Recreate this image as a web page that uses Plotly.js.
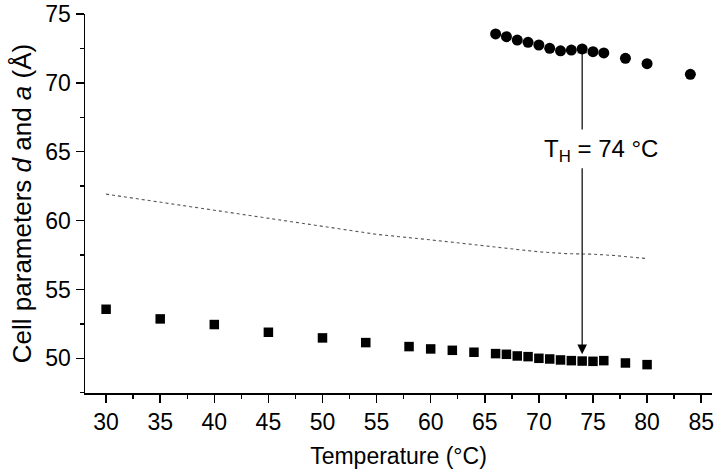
<!DOCTYPE html>
<html>
<head>
<meta charset="utf-8">
<script src="https://cdn.plot.ly/plotly-3.0.1.min.js"></script>
<style>html,body{margin:0;padding:0;background:#fff;}#chart{width:720px;height:474px;}</style>
</head>
<body>
<div id="chart"></div>
<script>
// Cell parameter a (circles, high-temperature phase)
var circleT = [66, 67, 68, 69, 70, 71, 72, 73, 74, 75, 76, 78, 80, 84];
var circleA = [73.55, 73.35, 73.11, 72.94, 72.75, 72.51, 72.33, 72.38, 72.46, 72.26, 72.17, 71.78, 71.39, 70.62];

// Cell parameter d (squares, lamellar phase)
var squareT = [30, 35, 40, 45, 50, 54, 58, 60, 62, 64, 66, 67, 68, 69, 70, 71, 72, 73, 74, 75, 76, 78, 80];
var squareD = [53.56, 52.86, 52.45, 51.89, 51.48, 51.14, 50.85, 50.68, 50.58, 50.44, 50.34, 50.29, 50.17, 50.12, 50.0, 49.95, 49.88, 49.83, 49.80, 49.78, 49.83, 49.66, 49.54];

// Dotted reference curve
var lineT = [30, 35, 40, 45, 50, 55, 60, 64.5, 70, 72.5, 75, 77, 80];
var lineV = [61.92, 61.34, 60.76, 60.17, 59.6, 59.0, 58.6, 58.21, 57.73, 57.6, 57.56, 57.46, 57.24];

var xTicks = [30, 35, 40, 45, 50, 55, 60, 65, 70, 75, 80, 85];
var yTicks = [50, 55, 60, 65, 70, 75];

var transitionT = 74;

var font = "Liberation Sans, Arial, sans-serif";

var traces = [
  {x: lineT, y: lineV, mode: 'lines', type: 'scatter',
   line: {color: '#555', width: 1.1, dash: 'dot'}, hoverinfo: 'skip'},
  {x: squareT, y: squareD, mode: 'markers', type: 'scatter',
   marker: {symbol: 'square', size: 9.5, color: '#000'}},
  {x: circleT, y: circleA, mode: 'markers', type: 'scatter',
   marker: {symbol: 'circle', size: 11, color: '#000'}}
];

var layout = {
  width: 720, height: 474,
  margin: {l: 85, r: 8, t: 14, b: 81},
  paper_bgcolor: '#fff', plot_bgcolor: '#fff',
  showlegend: false,
  font: {family: font, color: '#000', size: 23},
  xaxis: {
    range: [28.05, 86.0], tickvals: xTicks, ticktext: xTicks.map(String),
    showgrid: false, zeroline: false, showline: true, linecolor: '#000', linewidth: 1.5,
    ticks: 'outside', ticklen: 8, tickwidth: 1.5, tickcolor: '#000',
    tickfont: {family: font, size: 23},
    minor: {dtick: 2.5, tick0: 27.5, ticks: 'outside', ticklen: 4, tickwidth: 1.5, tickcolor: '#000', showgrid: false},
    title: {text: 'Temperature (°C)', font: {family: font, size: 23}, standoff: 14}
  },
  yaxis: {
    range: [47.48, 75.0], tickvals: yTicks, ticktext: yTicks.map(String),
    showgrid: false, zeroline: false, showline: true, linecolor: '#000', linewidth: 1.5,
    ticks: 'outside', ticklen: 8, tickwidth: 1.5, tickcolor: '#000',
    tickfont: {family: font, size: 23},
    minor: {dtick: 2.5, tick0: 47.5, ticks: 'outside', ticklen: 4, tickwidth: 1.5, tickcolor: '#000', showgrid: false},
    title: {text: 'Cell parameters <i>d</i> and <i>a</i> (Å)', font: {family: font, size: 26}, standoff: 6}
  },
  annotations: [
    {x: transitionT, y: 72.85, ax: transitionT, ay: 66.5, xref: 'x', yref: 'y', axref: 'x', ayref: 'y',
     text: '', showarrow: true, arrowhead: 2, arrowsize: 1.6, arrowwidth: 1.2, arrowcolor: '#000'},
    {x: transitionT, y: 50.3, ax: transitionT, ay: 63.9, xref: 'x', yref: 'y', axref: 'x', ayref: 'y',
     text: '', showarrow: true, arrowhead: 2, arrowsize: 1.6, arrowwidth: 1.2, arrowcolor: '#000'},
    {x: 75.7, y: 65.1, xref: 'x', yref: 'y', showarrow: false,
     text: 'T<sub>H</sub> = 74 °C', font: {family: font, size: 24, color: '#000'},
     bgcolor: 'rgba(0,0,0,0)'}
  ]
};

Plotly.newPlot('chart', traces, layout, {displayModeBar: false, staticPlot: true});
</script>
</body>
</html>
